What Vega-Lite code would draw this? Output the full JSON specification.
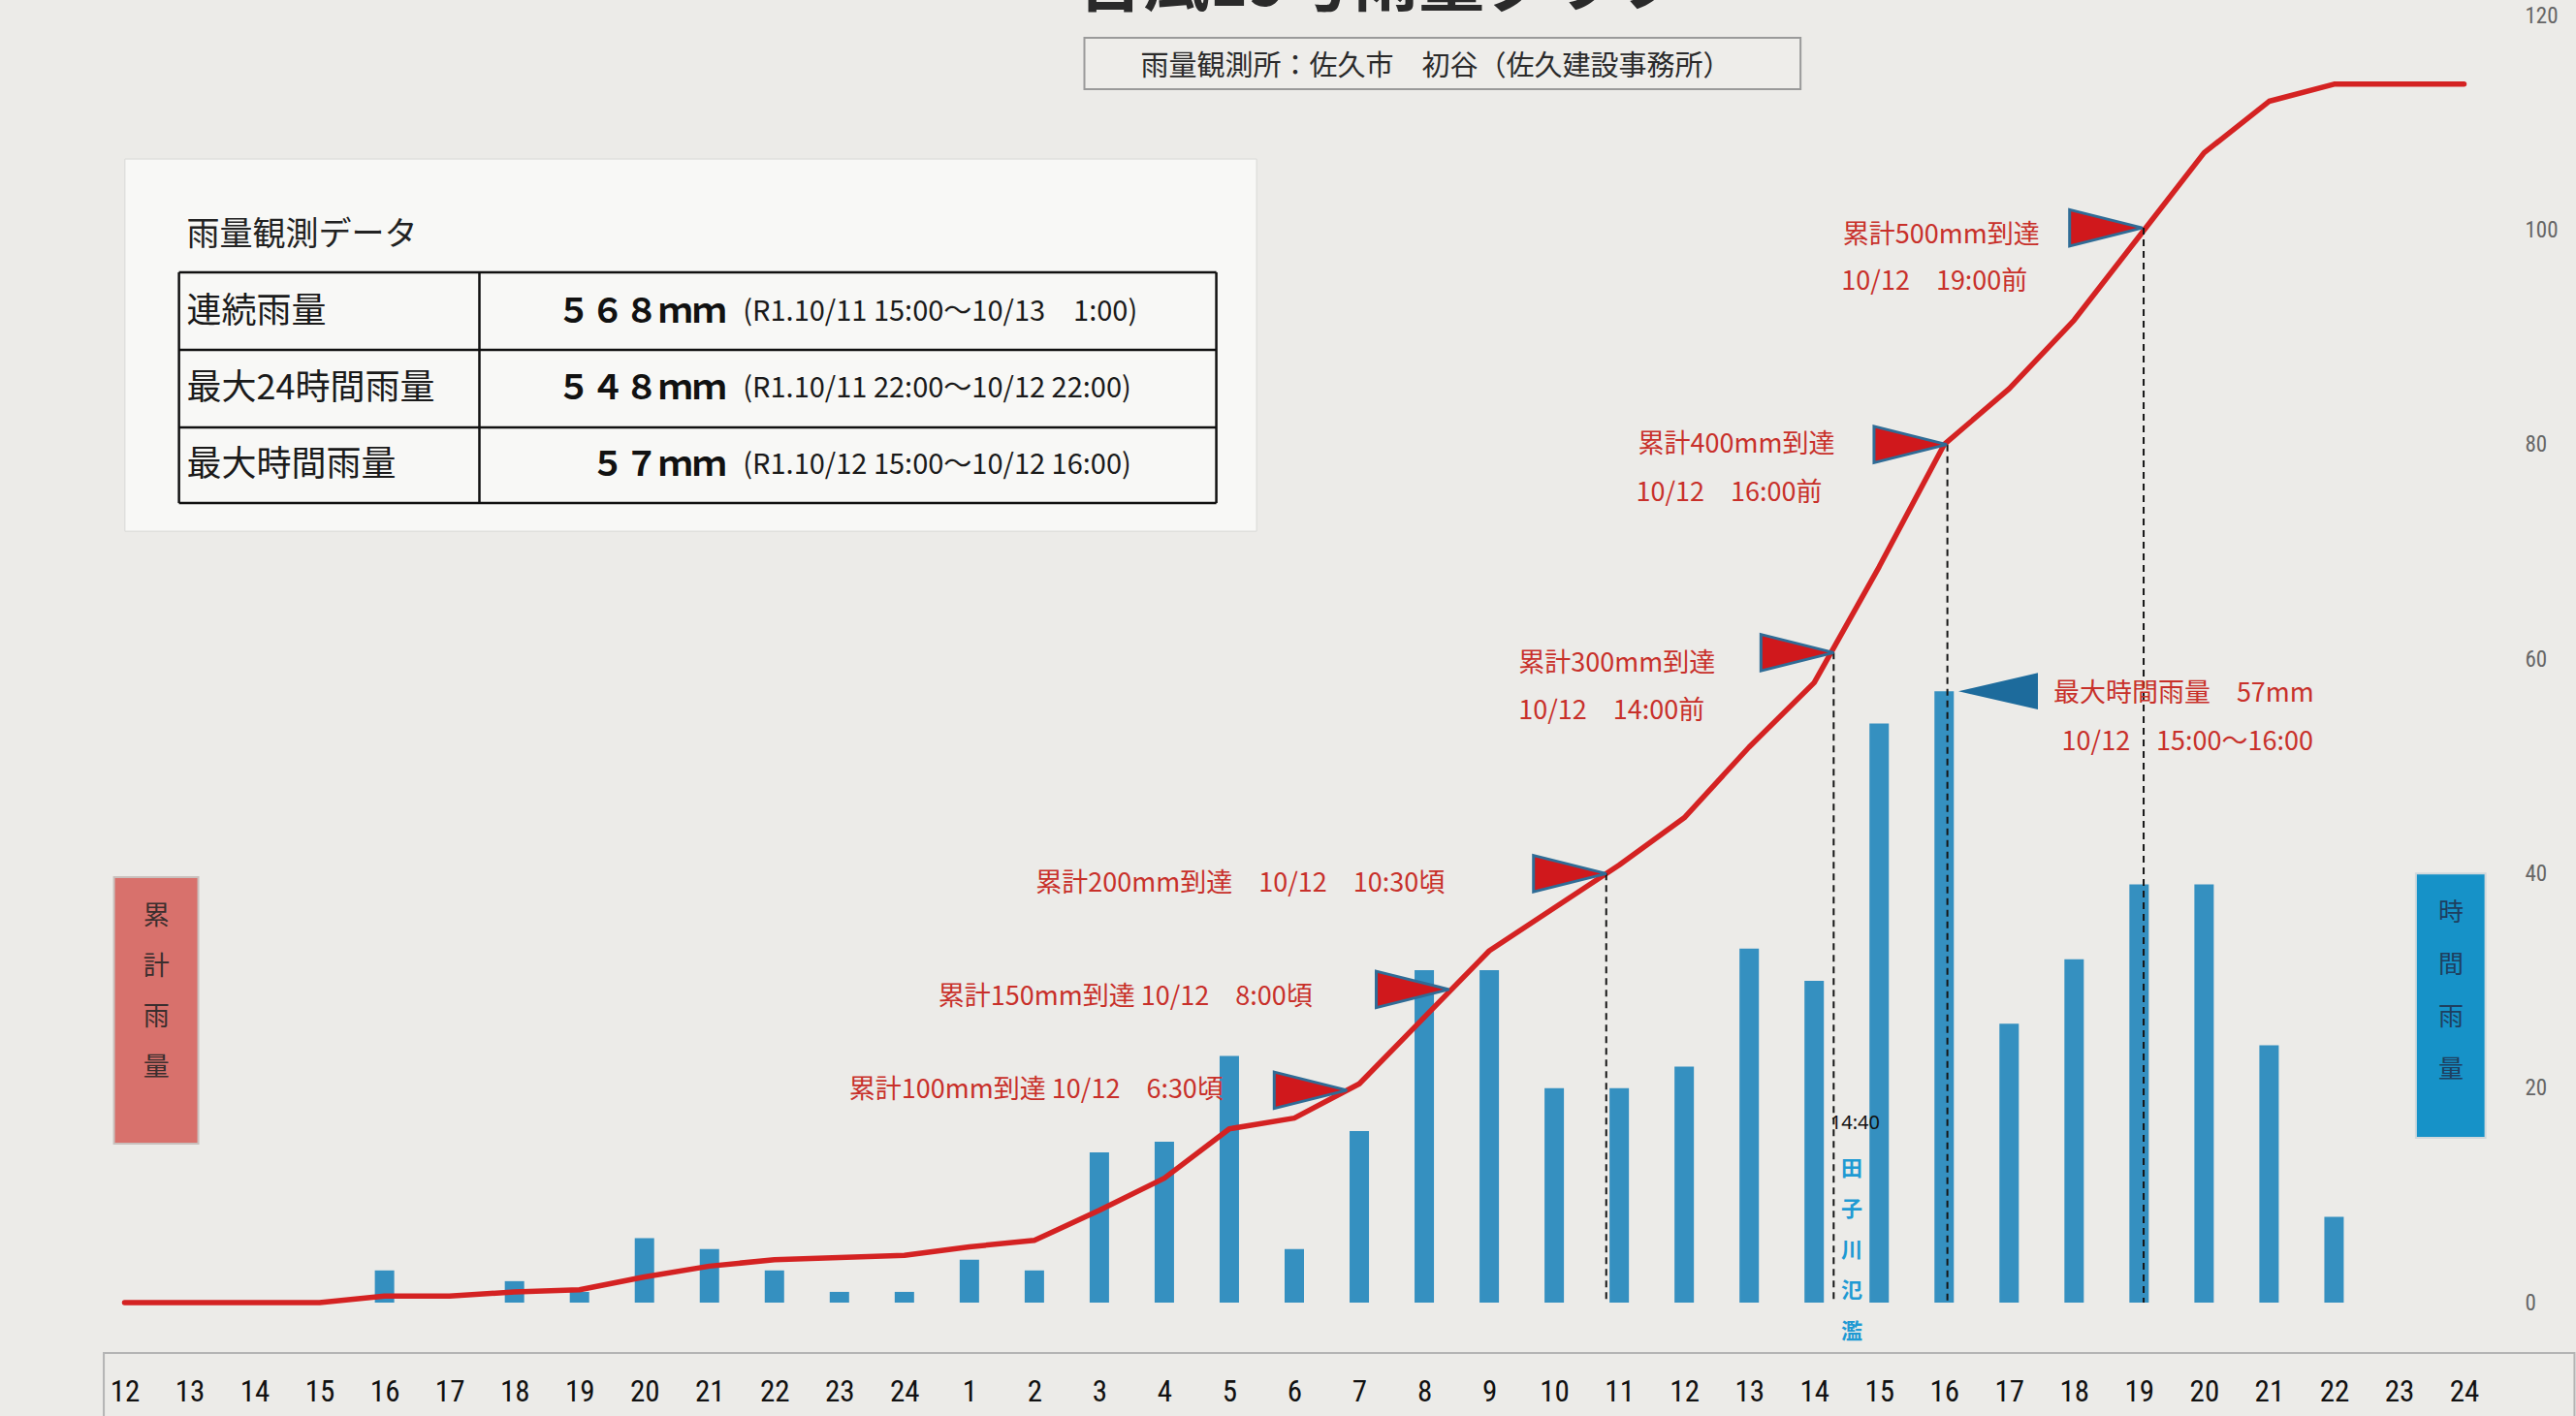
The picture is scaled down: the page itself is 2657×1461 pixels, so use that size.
{
  "$schema": "https://vega.github.io/schema/vega-lite/v6.json",
  "width": 2490,
  "height": 1328,
  "autosize": {"type": "none"},
  "padding": {"left": 90, "top": 16, "right": 77, "bottom": 117},
  "background": "#ecebe8",
  "config": {"view": {"stroke": null}},
  "datasets": {
    "rain": [
      {"t": 0, "hourly": 0, "cum": 0},
      {"t": 1, "hourly": 0, "cum": 0},
      {"t": 2, "hourly": 0, "cum": 0},
      {"t": 3, "hourly": 0, "cum": 0},
      {"t": 4, "hourly": 3, "cum": 3},
      {"t": 5, "hourly": 0, "cum": 3},
      {"t": 6, "hourly": 2, "cum": 5},
      {"t": 7, "hourly": 1, "cum": 6},
      {"t": 8, "hourly": 6, "cum": 12},
      {"t": 9, "hourly": 5, "cum": 17},
      {"t": 10, "hourly": 3, "cum": 20},
      {"t": 11, "hourly": 1, "cum": 21},
      {"t": 12, "hourly": 1, "cum": 22},
      {"t": 13, "hourly": 4, "cum": 26},
      {"t": 14, "hourly": 3, "cum": 29},
      {"t": 15, "hourly": 14, "cum": 43},
      {"t": 16, "hourly": 15, "cum": 58},
      {"t": 17, "hourly": 23, "cum": 81},
      {"t": 18, "hourly": 5, "cum": 86},
      {"t": 19, "hourly": 16, "cum": 102},
      {"t": 20, "hourly": 31, "cum": 133},
      {"t": 21, "hourly": 31, "cum": 164},
      {"t": 22, "hourly": 20, "cum": 184},
      {"t": 23, "hourly": 20, "cum": 204},
      {"t": 24, "hourly": 22, "cum": 226},
      {"t": 25, "hourly": 33, "cum": 259},
      {"t": 26, "hourly": 30, "cum": 289},
      {"t": 27, "hourly": 54, "cum": 343},
      {"t": 28, "hourly": 57, "cum": 400},
      {"t": 29, "hourly": 26, "cum": 426},
      {"t": 30, "hourly": 32, "cum": 458},
      {"t": 31, "hourly": 39, "cum": 497},
      {"t": 32, "hourly": 39, "cum": 536},
      {"t": 33, "hourly": 24, "cum": 560},
      {"t": 34, "hourly": 8, "cum": 568},
      {"t": 35, "hourly": 0, "cum": 568},
      {"t": 36, "hourly": 0, "cum": 568}
    ],
    "maxflag": [{"t": 28.22, "hourly": 57}],
    "flags": [
      {"t": 18.81, "mm": 99},
      {"t": 20.38, "mm": 146},
      {"t": 22.8, "mm": 200},
      {"t": 26.3, "mm": 303},
      {"t": 28.04, "mm": 400},
      {"t": 31.05, "mm": 501}
    ],
    "drops": [
      {"t": 22.8, "mm": 200, "mm2": 0},
      {"t": 26.3, "mm": 303, "mm2": 0},
      {"t": 28.05, "mm": 400, "mm2": 0},
      {"t": 31.07, "mm": 501, "mm2": 0}
    ],
    "notes": [
      {"t": 26.44, "mm": 497.5, "label": "累計500mm到達"},
      {"t": 26.42, "mm": 475.7, "label": "10/12　19:00前"},
      {"t": 23.29, "mm": 399.8, "label": "累計400mm到達"},
      {"t": 23.26, "mm": 377.3, "label": "10/12　16:00前"},
      {"t": 21.45, "mm": 297.9, "label": "累計300mm到達"},
      {"t": 21.45, "mm": 275.6, "label": "10/12　14:00前"},
      {"t": 14.02, "mm": 195.4, "label": "累計200mm到達　10/12　10:30頃"},
      {"t": 12.52, "mm": 142.5, "label": "累計150mm到達 10/12　8:00頃"},
      {"t": 11.15, "mm": 98.9, "label": "累計100mm到達 10/12　6:30頃"},
      {"t": 29.68, "mm": 283.7, "label": "最大時間雨量　57mm"},
      {"t": 29.81, "mm": 261.3, "label": "10/12　15:00～16:00"}
    ],
    "tablelines": [
      {"t": 0.837, "t2": 16.8, "mm": 480.3, "mm2": 480.3},
      {"t": 0.837, "t2": 16.8, "mm": 444.1, "mm2": 444.1},
      {"t": 0.837, "t2": 16.8, "mm": 408.0, "mm2": 408.0},
      {"t": 0.837, "t2": 16.8, "mm": 372.7, "mm2": 372.7},
      {"t": 0.837, "t2": 0.837, "mm": 480.3, "mm2": 372.7},
      {"t": 16.8, "t2": 16.8, "mm": 480.3, "mm2": 372.7},
      {"t": 5.46, "t2": 5.46, "mm": 480.3, "mm2": 372.7}
    ],
    "rowlabels": [
      {"t": 0.956, "mm": 461.9, "label": "連続雨量"},
      {"t": 0.956, "mm": 426.0, "label": "最大24時間雨量"},
      {"t": 0.956, "mm": 390.3, "label": "最大時間雨量"}
    ],
    "rowvalues": [
      {"t": 9.26, "mm": 461.9, "label": "５６８ｍｍ"},
      {"t": 9.26, "mm": 426.0, "label": "５４８ｍｍ"},
      {"t": 9.26, "mm": 390.3, "label": "５７ｍｍ"}
    ],
    "rowperiods": [
      {"t": 9.515, "mm": 461.9, "label": "(R1.10/11 15:00～10/13　1:00)"},
      {"t": 9.515, "mm": 426.0, "label": "(R1.10/11 22:00～10/12 22:00)"},
      {"t": 9.515, "mm": 390.3, "label": "(R1.10/12 15:00～10/12 16:00)"}
    ]
  },
  "encoding": {
    "x": {
      "field": "t",
      "type": "quantitative",
      "scale": {"domain": [-0.5, 36.5], "nice": false, "zero": false},
      "axis": {
        "values": [0,1,2,3,4,5,6,7,8,9,10,11,12,13,14,15,16,17,18,19,20,21,22,23,24,25,26,27,28,29,30,31,32,33,34,35,36],
        "labelExpr": "((datum.value + 11) % 24) + 1",
        "title": null,
        "domain": false,
        "ticks": false,
        "tickSize": 0,
        "grid": false,
        "labelPadding": 77,
        "labelBaseline": "top",
        "labelFontSize": 31,
        "labelColor": "#111111",
        "labelFont": "Liberation Sans Narrow, Roboto Condensed, DejaVu Sans Condensed, Liberation Sans, sans-serif",
        "labelFlush": false,
        "labelOverlap": false
      }
    }
  },
  "resolve": {"scale": {"y": "independent"}, "axis": {"y": "independent"}},
  "layer": [
    {
      "encoding": {
        "y": {
          "field": "hourly",
          "type": "quantitative",
          "scale": {"domain": [0, 120], "nice": false},
          "axis": {
            "orient": "right",
            "values": [0, 20, 40, 60, 80, 100, 120],
            "title": null,
            "grid": false,
            "domain": false,
            "ticks": false,
            "tickSize": 0,
            "labelPadding": 24,
            "labelFontSize": 23,
            "labelColor": "#666666",
            "labelFont": "Liberation Sans Narrow, Roboto Condensed, DejaVu Sans Condensed, Liberation Sans, sans-serif"
          }
        }
      },
      "layer": [
        {
          "data": {"name": "rain"},
          "mark": {"type": "bar", "orient": "vertical", "size": 20, "color": "#3590c0"}
        },
        {
          "data": {"name": "maxflag"},
          "mark": {"type": "point", "shape": "M2,-0.46L0,0L2,0.46Z", "size": 6724, "filled": true, "fill": "#1d6b9c", "opacity": 1, "strokeWidth": 0}
        }
      ]
    },
    {
      "encoding": {
        "y": {
          "field": "mm",
          "type": "quantitative",
          "scale": {"domain": [0, 600], "nice": false},
          "axis": {
            "orient": "left",
            "values": [0, 100, 200, 300, 400, 500, 600],
            "title": null,
            "grid": true,
            "gridColor": "#c6c6c6",
            "gridWidth": 2,
            "domain": false,
            "ticks": false,
            "tickSize": 0,
            "labelPadding": 22,
            "labelFontSize": 23,
            "labelColor": "#666666",
            "labelFont": "Liberation Sans Narrow, Roboto Condensed, DejaVu Sans Condensed, Liberation Sans, sans-serif"
          }
        }
      },
      "layer": [
        {
          "data": {"values": [{"t": 0.005, "t2": 17.42, "mm": 533.1, "mm2": 359.6}]},
          "mark": {"type": "rect", "fill": "#f8f8f6", "stroke": "#d8d8d6", "strokeWidth": 1},
          "encoding": {"x2": {"field": "t2"}, "y2": {"field": "mm2"}}
        },
        {
          "data": {"values": [{"t": 14.77, "t2": 25.79, "mm": 589.6, "mm2": 565.7}]},
          "mark": {"type": "rect", "fill": "#eeedea", "stroke": "#9a9a9a", "strokeWidth": 2},
          "encoding": {"x2": {"field": "t2"}, "y2": {"field": "mm2"}}
        },
        {
          "data": {"values": [{"t": -0.163, "t2": 1.134, "mm": 198.3, "mm2": 74.1}]},
          "mark": {"type": "rect", "fill": "#d8716c", "stroke": "#c9c0bd", "strokeWidth": 2},
          "encoding": {"x2": {"field": "t2"}, "y2": {"field": "mm2"}}
        },
        {
          "data": {"values": [{"t": 35.26, "t2": 36.33, "mm": 200, "mm2": 76.8}]},
          "mark": {"type": "rect", "fill": "#1692c8", "stroke": "#d0d8dc", "strokeWidth": 2},
          "encoding": {"x2": {"field": "t2"}, "y2": {"field": "mm2"}}
        },
        {
          "data": {"values": [{"t": -0.32, "t2": 37.7, "mm": -23.5, "mm2": -53.5}]},
          "mark": {"type": "rect", "fill": "#efeeeb", "fillOpacity": 0, "stroke": "#b4b4b4", "strokeWidth": 2},
          "encoding": {"x2": {"field": "t2"}, "y2": {"field": "mm2"}}
        },
        {
          "data": {"name": "tablelines"},
          "mark": {"type": "rule", "color": "#111111", "strokeWidth": 2.5},
          "encoding": {"x2": {"field": "t2"}, "y2": {"field": "mm2"}}
        },
        {
          "data": {"name": "rain"},
          "mark": {"type": "line", "color": "#d42222", "strokeWidth": 5.5, "strokeJoin": "round", "strokeCap": "round"},
          "encoding": {
            "y": {"field": "cum", "type": "quantitative", "scale": {"domain": [0, 600], "nice": false}, "axis": null}
          }
        },
        {
          "data": {"name": "drops"},
          "mark": {"type": "rule", "color": "#151515", "strokeWidth": 2, "strokeDash": [7, 5]},
          "encoding": {"y2": {"field": "mm2"}}
        },
        {
          "data": {"name": "flags"},
          "mark": {"type": "point", "shape": "M-2,-0.5L0,0L-2,0.5Z", "size": 5625, "filled": true, "fill": "#d0181c", "stroke": "#2f6c96", "strokeWidth": 3, "opacity": 1}
        },
        {
          "data": {"name": "notes"},
          "mark": {"type": "text", "align": "left", "baseline": "middle", "font": "Noto Sans CJK JP", "fontSize": 27, "color": "#c8302a"},
          "encoding": {"text": {"field": "label"}}
        },
        {
          "data": {"values": [{"t": 0.956, "mm": 497.4, "label": "雨量観測データ"}]},
          "mark": {"type": "text", "align": "left", "baseline": "middle", "font": "Noto Sans CJK JP", "fontSize": 34, "color": "#222222"},
          "encoding": {"text": {"field": "label"}}
        },
        {
          "data": {"name": "rowlabels"},
          "mark": {"type": "text", "align": "left", "baseline": "middle", "font": "Noto Sans CJK JP", "fontSize": 36, "color": "#1a1a1a"},
          "encoding": {"text": {"field": "label"}}
        },
        {
          "data": {"name": "rowvalues"},
          "mark": {"type": "text", "align": "right", "baseline": "middle", "font": "Noto Sans CJK JP", "fontSize": 35, "fontWeight": "bold", "color": "#111111"},
          "encoding": {"text": {"field": "label"}}
        },
        {
          "data": {"name": "rowperiods"},
          "mark": {"type": "text", "align": "left", "baseline": "middle", "font": "Noto Sans CJK JP", "fontSize": 29, "color": "#1a1a1a"},
          "encoding": {"text": {"field": "label"}}
        },
        {
          "data": {"values": [{"t": 20.18, "mm": 576, "label": "雨量観測所：佐久市　初谷（佐久建設事務所）"}]},
          "mark": {"type": "text", "align": "center", "baseline": "middle", "font": "Noto Sans CJK JP", "fontSize": 29, "color": "#2a2a2a"},
          "encoding": {"text": {"field": "label"}}
        },
        {
          "data": {"values": [{"t": 0.49, "mm": 185.7, "label": ["累", "計", "雨", "量"]}]},
          "mark": {"type": "text", "align": "center", "baseline": "top", "font": "Noto Sans CJK JP", "fontSize": 27, "lineHeight": 52, "color": "#3a2e2e"},
          "encoding": {"text": {"field": "label"}}
        },
        {
          "data": {"values": [{"t": 35.8, "mm": 187.5, "label": ["時", "間", "雨", "量"]}]},
          "mark": {"type": "text", "align": "center", "baseline": "top", "font": "Noto Sans CJK JP", "fontSize": 26, "lineHeight": 54, "color": "#1e3f5f"},
          "encoding": {"text": {"field": "label"}}
        },
        {
          "data": {"values": [{"t": 26.58, "mm": 67, "label": ["田", "子", "川", "氾", "濫"]}]},
          "mark": {"type": "text", "align": "center", "baseline": "top", "font": "Noto Sans CJK JP", "fontSize": 22, "fontWeight": "bold", "lineHeight": 42, "color": "#1f9ad3"},
          "encoding": {"text": {"field": "label"}}
        },
        {
          "data": {"values": [{"t": 26.63, "mm": 83.6, "label": "14:40"}]},
          "mark": {"type": "text", "align": "center", "baseline": "middle", "font": "Noto Sans", "fontSize": 20, "color": "#111111"},
          "encoding": {"text": {"field": "label"}}
        },
        {
          "data": {"values": [{"t": 14.66, "mm": 598.2, "label": "台風19号雨量グラフ"}]},
          "mark": {"type": "text", "align": "left", "baseline": "bottom", "font": "Noto Sans CJK JP", "fontSize": 68, "fontWeight": "bold", "color": "#2a2a2a"},
          "encoding": {"text": {"field": "label"}}
        }
      ]
    }
  ]
}
